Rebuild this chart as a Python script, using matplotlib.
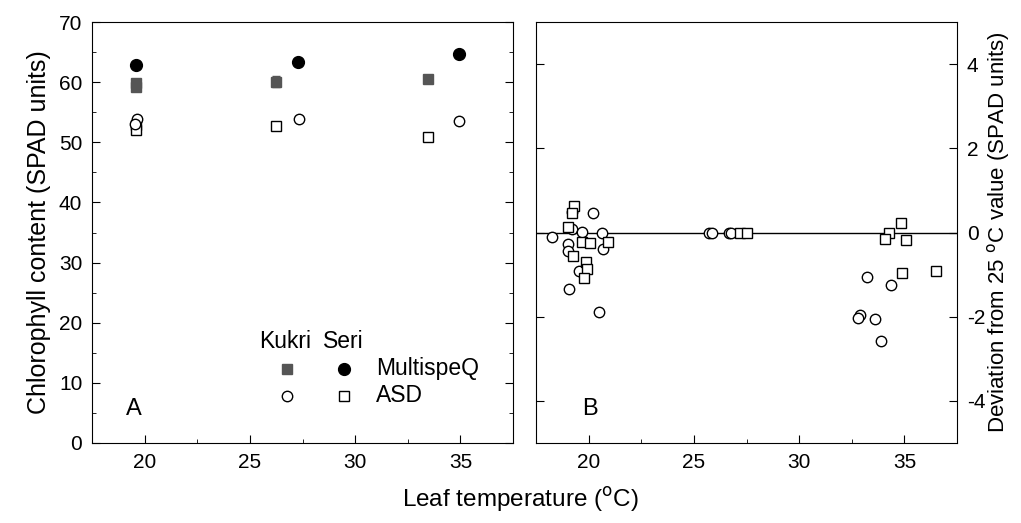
import matplotlib
matplotlib.use("Agg")
import matplotlib.pyplot as plt
from matplotlib.ticker import MultipleLocator

plt.rcParams['font.family'] = ['Liberation Sans', 'DejaVu Sans']
plt.rcParams['axes.unicode_minus'] = False

# ---- Panel A data ----
kukri_msq_T = [19.6, 19.6, 26.25, 33.45]
kukri_msq = [59.2, 59.9, 60.1, 60.6]
kukri_msq_err = [0.4, 0.4, 0.9, 0.3]
seri_msq_T = [19.6, 27.3, 34.95]
seri_msq = [62.8, 63.4, 64.6]
kukri_asd_T = [19.65, 19.55, 27.35, 34.95]
kukri_asd = [53.8, 53.0, 53.9, 53.6]
kukri_asd_err = [0.5, 0.5, 0.5, 0.4]
seri_asd_T = [19.6, 19.6, 26.25, 33.45]
seri_asd = [52.8, 52.0, 52.7, 50.9]
seri_asd_err = [0.5, 0.5, 0.5, 0.5]

# ---- Panel B data ----
circ_T = [18.28, 19.2, 20.2, 19.2, 19.68, 20.63, 19.04, 19.01, 20.68, 19.56,
          19.08, 20.51, 25.7, 25.85, 26.66, 26.77, 33.21, 34.37, 32.9, 32.82,
          33.6, 33.88]
circ_dev = [-0.11, 0.49, 0.47, 0.08, 0.02, 0.0, -0.27, -0.44, -0.40, -0.91,
            -1.35, -1.88, 0.0, 0.0, 0.0, 0.0, -1.05, -1.25, -1.96, -2.02,
            -2.05, -2.58]
sq_T = [19.31, 19.2, 19.04, 19.68, 20.07, 20.94, 19.25, 19.88, 19.9, 19.79,
        27.21, 27.53, 34.83, 34.25, 34.07, 35.08, 34.88, 36.5]
sq_dev = [0.63, 0.46, 0.12, -0.23, -0.24, -0.23, -0.57, -0.71, -0.87, -1.09,
          0.0, 0.0, 0.22, -0.02, -0.16, -0.19, -0.97, -0.91]

fig = plt.figure(figsize=(10.21, 5.23), dpi=100)
axA = fig.add_axes([92 / 1021, 80 / 523, 421 / 1021, 421 / 523])
axB = fig.add_axes([536 / 1021, 80 / 523, 421 / 1021, 421 / 523])

TICK_FS = 15
gray = '#555555'

# Panel A
axA.errorbar(kukri_msq_T, kukri_msq, yerr=kukri_msq_err, fmt='s', ms=7.5,
             color=gray, mec=gray, mfc=gray, ecolor=gray, capsize=3, elinewidth=1, zorder=3)
axA.plot(seri_msq_T, seri_msq, 'o', ms=8.5, color='black', zorder=3)
axA.errorbar(kukri_asd_T, kukri_asd, yerr=kukri_asd_err, fmt='o', ms=7.5,
             mfc='white', mec='black', mew=1, ecolor='black', capsize=3,
             elinewidth=0.8, zorder=4)
axA.errorbar(seri_asd_T, seri_asd, yerr=seri_asd_err, fmt='s', ms=7,
             mfc='white', mec='black', mew=1, ecolor='black', capsize=3,
             elinewidth=0.8, zorder=3)

axA.set_xlim(17.5, 37.5)
axA.set_ylim(0, 70)
axA.xaxis.set_major_locator(MultipleLocator(5))
axA.xaxis.set_minor_locator(MultipleLocator(2.5))
axA.yaxis.set_major_locator(MultipleLocator(10))
axA.yaxis.set_minor_locator(MultipleLocator(5))
axA.tick_params(which='both', direction='in', right=True, labelsize=TICK_FS, pad=7)
axA.tick_params(which='major', length=6)
axA.tick_params(which='minor', length=3)
axA.set_ylabel('Chlorophyll content (SPAD units)', fontsize=18, labelpad=6)
axA.text(0.10, 0.08, 'A', transform=axA.transAxes, fontsize=17, ha='center', va='center')

# legend (manual)
ly0, ly1, ly2 = 341, 369, 396
def data_from_px(ax, px, py):
    inv = ax.transData.inverted()
    return inv.transform((px, 523 - py))
fig.canvas.draw()
for (px, py, m, mfc, ms) in [(287, ly1, 's', gray, 7.5), (344, ly1, 'o', 'black', 8.5),
                             (287, ly2, 'o', 'white', 7.5), (344, ly2, 's', 'white', 7)]:
    x, y = data_from_px(axA, px, py)
    axA.plot([x], [y], m, ms=ms, mfc=mfc, mec='black' if mfc != gray else gray, mew=1,
             clip_on=False)
for (px, py, t, ha) in [(285, ly0, 'Kukri', 'center'), (343, ly0, 'Seri', 'center'),
                        (376, ly1, 'MultispeQ', 'left'), (376, ly2, 'ASD', 'left')]:
    x, y = data_from_px(axA, px, py)
    axA.text(x, y, t, fontsize=16.5, ha=ha, va='center')

# Panel B
axB.axhline(0, color='black', lw=1, zorder=1)
axB.plot(circ_T, circ_dev, 'o', ms=7.5, mfc='white', mec='black', mew=1, zorder=3)
axB.plot(sq_T, sq_dev, 's', ms=6.5, mfc='white', mec='black', mew=1, zorder=3)
axB.set_xlim(17.5, 37.5)
axB.set_ylim(-5, 5)
axB.xaxis.set_major_locator(MultipleLocator(5))
axB.xaxis.set_minor_locator(MultipleLocator(2.5))
axB.yaxis.set_major_locator(MultipleLocator(2))
axB.tick_params(which='both', direction='in', left=True, right=True,
                labelleft=False, labelright=True, labelsize=TICK_FS, pad=7)
axB.tick_params(which='major', length=6)
axB.tick_params(which='minor', length=3)
axB.yaxis.set_label_position('right')
axB.set_ylabel(r'Deviation from 25 $^{\rm o}$C value (SPAD units)', fontsize=16,
               rotation=90, labelpad=0)
axB.text(0.128, 0.08, 'B', transform=axB.transAxes, fontsize=17, ha='center', va='center')

fig.text(520 / 1021, 1 - 500 / 523, r'Leaf temperature ($^{\rm o}$C)', fontsize=17.5,
         ha='center', va='center')

fig.savefig('out.png', dpi=100)
